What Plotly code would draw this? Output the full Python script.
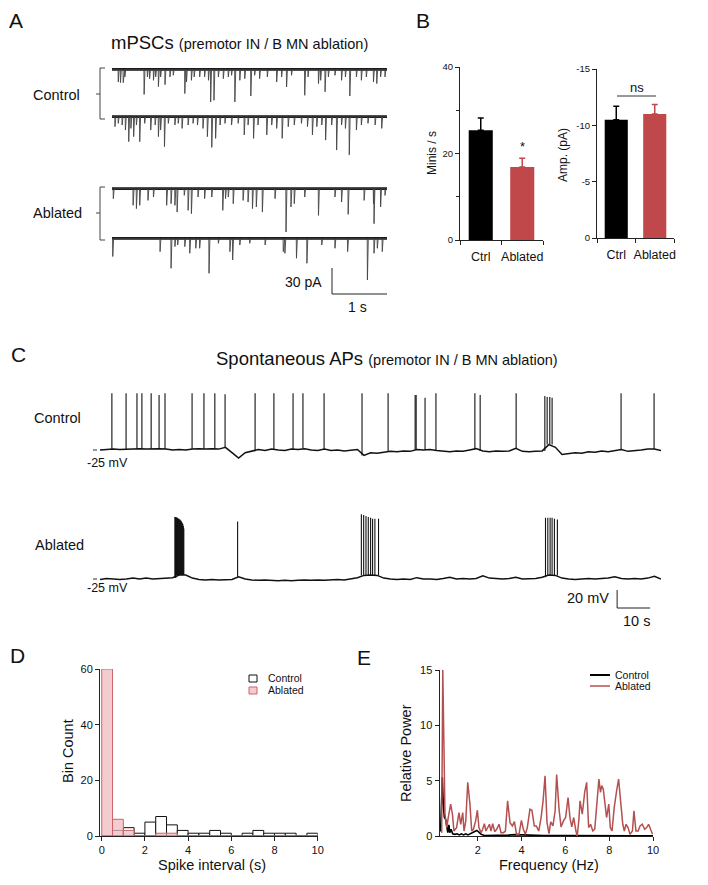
import plotly.graph_objects as go

W, H = 708, 885
FONT = "Liberation Sans, Arial, Helvetica, sans-serif"
INK = "#111111"
AX = "#222222"
RED = "#c0474a"
RED_LINE = "#b4504f"
PINK = "rgba(240,185,189,0.75)"
PINK_EDGE = "#c9666b"

# ---------------- Panel A: mPSC events (time in s, amplitude in pA) ----------------
ctrl1_t = [0.11, 0.15, 0.20, 0.23, 0.58, 0.64, 0.68, 0.75, 0.79, 0.84, 0.88, 0.96, 1.05, 1.11, 1.32,
           1.35, 1.44, 1.49, 1.59, 1.68, 1.75, 1.79, 1.85, 1.93, 2.02, 2.11, 2.17, 2.23, 2.32, 2.41,
           2.52, 2.59, 2.68, 2.82, 2.99, 3.08, 3.17, 3.26, 3.50, 3.56, 3.75, 3.79, 3.87, 3.93, 4.05,
           4.17, 4.24, 4.32, 4.44, 4.53, 4.62, 4.75, 4.81, 4.88, 4.96]
ctrl1_a = [14.6, 15.4, 15.4, 8.8, 29, 8.8, 10.8, 12.7, 8.8, 20, 8.8, 17.7, 8.8, 6.9, 28,
           14.6, 12.7, 8.8, 8.8, 8.8, 12.7, 37.7, 35.8, 8.8, 10.8, 8.8, 6.9, 37.7, 12.7, 10.8,
           30.8, 6.9, 10.8, 8.8, 14.6, 8.8, 20.4, 6.9, 30, 8.8, 16.5, 12.7, 26, 8.8, 6.9,
           12.7, 8.8, 30.8, 8.8, 12.7, 8.8, 14.6, 16.5, 8.8, 8.8]
ctrl2_t = [0.05, 0.11, 0.18, 0.24, 0.30, 0.34, 0.39, 0.44, 0.50, 0.59, 0.70, 0.78, 0.84, 0.88, 0.95,
           1.02, 1.14, 1.20, 1.27, 1.38, 1.47, 1.55, 1.65, 1.73, 1.81, 1.88, 1.96, 2.05, 2.17, 2.29,
           2.40, 2.47, 2.57, 2.65, 2.81, 2.90, 2.99, 3.09, 3.20, 3.31, 3.44, 3.55, 3.64, 3.72, 3.81,
           3.88, 3.99, 4.08, 4.17, 4.24, 4.31, 4.44, 4.53, 4.65, 4.78, 4.90]
ctrl2_a = [11.5, 7.7, 9.6, 15.4, 28.8, 13.5, 23, 9.6, 28.8, 7.7, 15.4, 9.6, 23, 15.4, 34.6,
           7.7, 9.6, 7.7, 13.5, 9.6, 7.7, 9.6, 13.5, 23, 35.4, 25, 9.6, 7.7, 9.6, 7.7,
           21, 9.6, 25, 9.6, 21, 9.6, 13.5, 25, 11.5, 9.6, 7.7, 11.5, 21, 11.5, 9.6,
           27, 9.6, 38.5, 9.6, 13.5, 44, 15.4, 9.6, 7.7, 9.6, 13.5]
abl1_t = [0.02, 0.38, 0.44, 0.50, 0.65, 0.75, 0.99, 1.07, 1.14, 1.18, 1.31, 1.38, 1.44, 1.56, 1.68,
          1.81, 2.01, 2.06, 2.11, 2.20, 2.38, 2.47, 2.55, 2.62, 2.73, 2.96, 3.16, 3.25, 3.31, 3.50,
          3.75, 4.05, 4.17, 4.29, 4.58, 4.75, 4.76, 4.88, 4.96]
abl1_a = [11.5, 19.2, 23, 19.2, 13.5, 9.6, 19.2, 17.3, 19.2, 27, 7.7, 25, 28.8, 9.6, 11.5,
          9.6, 25, 11.5, 9.6, 17.3, 13.5, 15.4, 23, 21, 27, 11.5, 50, 21, 17.3, 9.6,
          30.8, 9.6, 15.4, 29.6, 13.5, 17.3, 40.4, 21, 7.7]
abl2_t = [0.01, 0.87, 1.07, 1.14, 1.19, 1.32, 1.41, 1.52, 1.59, 1.76, 1.93, 2.14, 2.19, 2.32, 2.50,
          2.78, 3.11, 3.14, 3.35, 3.54, 3.81, 4.05, 4.28, 4.64, 4.76, 4.82, 4.91]
abl2_a = [21, 15.4, 34.6, 9.6, 7.7, 9.6, 17.3, 11.5, 11.5, 40.4, 5.8, 15.4, 25, 7.7, 5.8,
          7.7, 15.4, 17.3, 23, 28.8, 7.7, 11.5, 15.4, 48, 17.3, 11.5, 15.4]
sweep_duration = 5.0

# ---------------- Panel B: summary bars ----------------
b_cats = ["Ctrl", "Ablated"]
minis_mean = [25.4, 16.9]
minis_sem = [2.8, 2.0]
amp_mean = [-10.5, -11.0]
amp_sem = [1.2, 0.85]

# ---------------- Panel C: spontaneous APs (time s, mV) ----------------
c_base_t = [0, 2, 4, 6, 8, 10, 12, 14, 16, 18, 20, 22, 24, 26, 28, 30, 32, 34, 36, 38,
            40, 42, 44, 46, 48, 50, 52, 54, 56, 58, 60, 62, 64, 66, 68, 70, 72, 74, 76, 78,
            80, 82, 84, 86, 88, 90, 92, 94, 96, 98, 100, 102, 104, 106, 108, 110, 112, 114, 116, 118,
            120, 122, 124, 126, 128, 130, 132, 134, 136, 138, 140, 142, 144, 146, 148, 150, 152, 154, 156, 158,
            160, 162, 164, 166, 168, 170]
ctrl_base_dv = [0, 0.5, 1, 0.5, 1, 1, 1.5, 1, 1.5, 1.5,
                1, 0, 0.5, 0, 1, 1.5, 1, 1.5, 1, 3,
                -3, -9, -3, -1.5, 0.5, -0.5, 1, 0, -0.5, 1,
                0.5, 1.5, 0, -0.5, 1, -0.5, 0, -1, 0, 0.5,
                -6, -3, -3.5, -2.5, -1.5, -2, -1, -1.5, 0.5, 0,
                0.5, -0.5, -1.5, -2, -1, -1.5, 0, 1.5, -1, -2,
                -1, -1.5, -1, 2, -1.5, -2, -1.5, -1, 6, 3,
                -5, -4, -3, -3.5, -2, -2.5, -1, -2, -1, 0.5,
                -1.5, -1, 0, 1, 1, -0.5]
abl_base_dv = [-0.5, 0.5, 0, -0.5, 0, 1, 0, 1, 0, 0.5,
               0.5, 1.5, 4.5, 4.5, 1, -0.5, -1, -0.5, -1, -1,
               -0.5, 2.5, 0, -1, -1.5, -1, -1.5, -2, -1.5, -2,
               -1.5, -1, -1.5, -1, -1.5, -1, -0.5, -1, 0, 1.5,
               4, 4.5, 4, 1, 0, -0.5, 0, -0.5, 1.5, 0,
               0, -0.5, 0.5, 2, 0, 0.5, 0, 0.5, 3.5, 1,
               0.5, 0, 0.5, 2, 0, 0.5, 0.5, 2, 4.5, 4,
               1, 0, -0.5, 0, 0.5, 0, 0.5, 1, 2.5, 0.5,
               0, 0.5, 0, 1, 3, 0]
ctrl_spk_t = [3.6, 7.9, 11.2, 12.7, 15.5, 17.9, 19.7, 27.9, 31.5, 34.8, 37.9, 47.0, 52.7, 58.5, 61.5,
              67.9, 79.4, 87.3, 95.5, 95.8, 98.5, 101.8, 113.6, 115.2, 126.1, 134.8, 135.5, 136.3, 137.0,
              157.9, 167.9]
ctrl_spk_v = [38, 38, 38, 38, 38, 36, 38, 38, 38, 38, 37, 38, 38, 38, 38,
              38, 38, 38, 36, 36, 33, 38, 38, 36, 38, 35, 34, 34, 33,
              38, 38]
abl_spk_t = [22.7, 22.85, 23.0, 23.15, 23.3, 23.45, 23.6, 23.75, 23.9, 24.05, 24.2, 24.35, 24.5, 24.65,
             24.8, 24.95, 25.1, 25.25, 25.4,
             41.7,
             79.2, 79.9, 80.6, 81.3, 82.0, 82.6, 83.3, 84.4,
             135.0, 135.7, 136.4, 137.0, 137.7, 138.6]
abl_spk_v = [44, 44, 44, 43, 43, 43, 42, 42, 42, 41, 41, 40, 40, 39,
             38, 37, 36, 34, 31,
             39,
             47, 46, 45, 44, 43, 42, 42, 42,
             43, 43, 43, 43, 42, 41]
rest_mv = -25

# ---------------- Panel D: spike interval histogram ----------------
d_bin_center = [0.25, 0.75, 1.25, 1.75, 2.25, 2.75, 3.25, 3.75, 4.25, 4.75,
                5.25, 5.75, 6.25, 6.75, 7.25, 7.75, 8.25, 8.75, 9.25, 9.75]
d_ctrl = [0, 2, 3, 1, 5, 7, 4, 2, 1, 1, 2, 1, 0, 1, 2, 1, 1, 1, 0, 1]
d_abl = [60, 6, 2, 0, 0, 1, 1, 0, 0, 0, 0, 0, 0, 0, 0, 0, 0, 0, 0, 0]

# ---------------- Panel E: power spectra ----------------
e_ctrl_f = [0.30, 0.38, 0.42, 0.47, 0.53, 0.58, 0.63, 0.68, 0.72, 0.78, 0.85, 0.95, 1.05, 1.15, 1.25,
            1.35, 1.45, 1.55, 1.65, 1.75, 1.85, 1.95, 2.05, 2.15, 2.30, 2.60, 3.00, 3.40, 3.70, 4.00,
            4.50, 5.00, 6.00, 7.00, 8.00, 9.00, 10.00]
e_ctrl_p = [0.4, 5.3, 3.0, 1.7, 1.5, 0.8, 0.3, 1.0, 0.3, 0.6, 0.2, 0.15, 0.2, 0.1, 0.2,
            0.1, 0.2, 0.1, 0.2, 0.3, 0.45, 0.5, 0.35, 0.15, 0.05, 0.05, 0.02, 0.08, 0.12, 0.1,
            0.05, 0.03, 0.05, 0.02, 0.02, 0.01, 0.01]
e_abl_f = [0.35, 0.40, 0.50, 0.58, 0.65, 0.76, 0.84, 0.91, 1.03, 1.14, 1.22, 1.31, 1.37, 1.45, 1.54,
           1.64, 1.72, 1.80, 1.90, 1.98, 2.05, 2.15, 2.22, 2.30, 2.37, 2.45, 2.53, 2.60, 2.68, 2.77,
           2.86, 2.97, 3.06, 3.17, 3.26, 3.36, 3.47, 3.58, 3.67, 3.77, 3.88, 3.99, 4.08, 4.17, 4.26,
           4.38, 4.47, 4.58, 4.67, 4.78, 4.89, 4.98, 5.07, 5.16, 5.25, 5.33, 5.43, 5.53, 5.60, 5.71,
           5.80, 5.91, 6.01, 6.12, 6.21, 6.29, 6.38, 6.48, 6.54, 6.61, 6.67, 6.77, 6.88, 6.97, 7.06,
           7.15, 7.25, 7.34, 7.43, 7.53, 7.60, 7.66, 7.73, 7.81, 7.88, 7.98, 8.05, 8.13, 8.23, 8.34,
           8.43, 8.52, 8.62, 8.69, 8.77, 8.86, 8.95, 9.06, 9.13, 9.22, 9.32, 9.41, 9.51, 9.62, 9.71,
           9.80, 9.89, 9.98]
e_abl_p = [0.30, 15.0, 1.97, 0.76, 1.67, 2.88, 1.97, 0.45, 0.76, 2.12,
           1.06, 2.12, 0.45, 1.36, 4.85, 2.88, 0.45, 0.61, 1.36, 2.33,
           0.76, 0.30, 0.61, 1.12, 0.45, 0.76, 1.06, 0.45, 1.12, 0.39,
           0.61, 1.06, 0.30, 0.30, 0.45, 3.18, 1.21, 0.91, 1.30, 0.15,
           0.15, 1.42, 0.61, 0.15, 0.76, 2.42, 2.33, 0.91, 0.91, 0.45,
           1.67, 3.18, 5.45, 1.21, 0.21, 1.27, 0.91, 2.27, 5.55, 2.42,
           0.82, 1.36, 1.67, 3.48, 1.61, 0.82, 1.67, 0.45, 0.0, 1.36,
           3.18, 1.97, 3.94, 4.85, 0.76, 1.06, 0.45, 0.61, 3.18, 5.15,
           3.94, 4.55, 4.24, 2.73, 1.67, 2.88, 0.76, 0.45, 2.58, 4.09,
           5.15, 3.18, 1.06, 0.45, 1.06, 0.76, 0.15, 0.45, 2.27, 0.45,
           0.45, 0.91, 1.06, 0.61, 0.76, 1.06, 0.61, 0.15]


# ---------------- helpers ----------------
def xdom(a, b):
    return [a / W, b / W]


def ydom(top, bottom):
    return [1 - bottom / H, 1 - top / H]


def ann(text, x, y, size, xanchor="center", angle=0, color=INK):
    return dict(text=text, x=x / W, y=1 - y / H, xref="paper", yref="paper", showarrow=False,
                font=dict(size=size, family=FONT, color=color), xanchor=xanchor, yanchor="middle",
                textangle=angle)


def pline(x0, y0, x1, y1, color=AX, width=1):
    return dict(type="line", xref="paper", yref="paper", x0=x0 / W, y0=1 - y0 / H,
                x1=x1 / W, y1=1 - y1 / H, line=dict(color=color, width=width))


def mpsc_path(times, amps, offset, dur):
    ev = sorted(zip(times, amps))
    xs, ys = [0.0], [offset]
    for t, a in ev:
        xs += [t, t + 0.004, t + 0.02]
        ys += [offset, offset - a, offset]
    xs.append(dur)
    ys.append(offset)
    return xs, ys


def spike_segments(base_t, base_dv, spk_t, spk_v, offset):
    xs, ys = [], []
    for t, v in zip(spk_t, spk_v):
        i = min(range(len(base_t)), key=lambda k: abs(base_t[k] - t))
        xs += [t, t, None]
        ys += [rest_mv + base_dv[i] + offset, v + offset, None]
    return xs, ys


fig = go.Figure()

# ---------------- Panel A ----------------
A_K = 26 / 30.0                       # px per pA
A_BASE_PX = [69.3, 116.7, 188.7, 238.3]
A_TOP, A_BOT = 60, 300
a_off = [-(b - A_BASE_PX[0]) / A_K for b in A_BASE_PX]


def a_y(p):
    return -(p - A_BASE_PX[0]) / A_K


for (tt, aa), off in zip([(ctrl1_t, ctrl1_a), (ctrl2_t, ctrl2_a), (abl1_t, abl1_a), (abl2_t, abl2_a)], a_off):
    xs, ys = mpsc_path(tt, aa, off, sweep_duration)
    fig.add_trace(go.Scatter(x=[0, sweep_duration], y=[off, off], mode="lines",
                             line=dict(color="#151515", width=2.8), xaxis="x", yaxis="y",
                             hoverinfo="skip", showlegend=False))
    fig.add_trace(go.Scatter(x=xs, y=ys, mode="lines", line=dict(color="#444444", width=0.9),
                             xaxis="x", yaxis="y", hoverinfo="skip", showlegend=False))

# ---------------- Panel C ----------------
C_K = 0.9                              # px per mV
C_BASE_PX = [450, 579]
C_TOP, C_BOT = 380, 615
c_off = [-(b - C_BASE_PX[0]) / C_K for b in C_BASE_PX]


def c_y(p):
    return rest_mv - (p - C_BASE_PX[0]) / C_K


for dv, st, sv, off in [(ctrl_base_dv, ctrl_spk_t, ctrl_spk_v, c_off[0]),
                        (abl_base_dv, abl_spk_t, abl_spk_v, c_off[1])]:
    fig.add_trace(go.Scatter(x=c_base_t, y=[rest_mv + d + off for d in dv], mode="lines",
                             line=dict(color="#111", width=1.5), xaxis="x2", yaxis="y2",
                             hoverinfo="skip", showlegend=False))
    sx, sy = spike_segments(c_base_t, dv, st, sv, off)
    fig.add_trace(go.Scatter(x=sx, y=sy, mode="lines", line=dict(color="#111", width=1.1),
                             xaxis="x2", yaxis="y2", hoverinfo="skip", showlegend=False,
                             connectgaps=False))

# ---------------- Panel B ----------------
b_colors = ["#000000", RED]
b_x = [0.5, 1.5]
for i in range(2):
    fig.add_trace(go.Bar(x=[b_x[i]], y=[minis_mean[i]], width=0.58, marker=dict(color=b_colors[i], line_width=0),
                         error_y=dict(type="data", symmetric=False, array=[minis_sem[i]], arrayminus=[0],
                                      color=b_colors[i], thickness=1.5, width=3),
                         xaxis="x3", yaxis="y3", showlegend=False, hoverinfo="skip"))
    fig.add_trace(go.Bar(x=[b_x[i]], y=[amp_mean[i]], width=0.6, marker=dict(color=b_colors[i], line_width=0),
                         error_y=dict(type="data", symmetric=False, array=[0], arrayminus=[amp_sem[i]],
                                      color=b_colors[i], thickness=1.5, width=3),
                         xaxis="x4", yaxis="y4", showlegend=False, hoverinfo="skip"))

# ---------------- Panel D ----------------
fig.add_trace(go.Bar(x=d_bin_center, y=d_ctrl, width=0.5, name="Control",
                     marker=dict(color="white", line=dict(color="#111", width=1)),
                     xaxis="x5", yaxis="y5", showlegend=False, hoverinfo="skip"))
fig.add_trace(go.Bar(x=d_bin_center, y=d_abl, width=0.5, name="Ablated",
                     marker=dict(color=PINK, line=dict(color=PINK_EDGE, width=1)),
                     xaxis="x5", yaxis="y5", showlegend=False, hoverinfo="skip"))

# ---------------- Panel E ----------------
fig.add_trace(go.Scatter(x=e_ctrl_f, y=e_ctrl_p, mode="lines", line=dict(color="#000", width=1.6),
                         xaxis="x6", yaxis="y6", showlegend=False, hoverinfo="skip"))
fig.add_trace(go.Scatter(x=e_abl_f, y=e_abl_p, mode="lines", line=dict(color=RED_LINE, width=1.5),
                         xaxis="x6", yaxis="y6", showlegend=False, hoverinfo="skip"))

# ---------------- axes ----------------
def ax(**kw):
    base = dict(showline=True, linecolor=AX, linewidth=1, ticks="outside", tickcolor=AX, ticklen=4,
                tickwidth=1, tickfont=dict(size=11, color=INK, family=FONT), showgrid=False,
                zeroline=False, fixedrange=True)
    base.update(kw)
    return base


hidden = dict(visible=False, showgrid=False, zeroline=False, fixedrange=True)
B_TICK = dict(size=9.5, color=INK, family=FONT)
B_CAT = dict(size=12.5, color=INK, family=FONT)

layout = dict(
    width=W, height=H, margin=dict(l=0, r=0, t=0, b=0), template="none",
    paper_bgcolor="white", plot_bgcolor="rgba(0,0,0,0)", barmode="overlay",
    font=dict(family=FONT, color=INK), showlegend=False,
    xaxis=dict(hidden, domain=xdom(112, 387), range=[0, sweep_duration], anchor="y"),
    yaxis=dict(hidden, domain=ydom(A_TOP, A_BOT), range=[a_y(A_BOT), a_y(A_TOP)], anchor="x"),
    xaxis2=dict(hidden, domain=xdom(100, 661), range=[0, 170], anchor="y2"),
    yaxis2=dict(hidden, domain=ydom(C_TOP, C_BOT), range=[c_y(C_BOT), c_y(C_TOP)], anchor="x2"),
    xaxis3=ax(domain=xdom(460, 543), range=[0, 2], anchor="y3", tickvals=b_x, ticktext=b_cats,
              tickcolor="rgba(0,0,0,0)", ticklen=5, tickfont=B_CAT,
              minor=dict(tickvals=[0, 1, 2], ticks="outside", ticklen=4, tickcolor=AX)),
    yaxis3=ax(domain=ydom(67, 240), range=[0, 40], anchor="x3", tickvals=[0, 20, 40],
              tickfont=B_TICK, ticklen=4,
              minor=dict(tickvals=[10, 30], ticks="outside", ticklen=3, tickcolor=AX)),
    xaxis4=ax(domain=xdom(597, 674), range=[0, 2], anchor="y4", tickvals=b_x, ticktext=b_cats,
              tickcolor="rgba(0,0,0,0)", ticklen=5, tickfont=B_CAT,
              minor=dict(tickvals=[0, 1, 2], ticks="outside", ticklen=4, tickcolor=AX)),
    yaxis4=ax(domain=ydom(69, 238), range=[0, -15], anchor="x4", tickvals=[0, -5, -10, -15],
              ticktext=["0", "-5", "-10", "-15"], tickfont=B_TICK),
    xaxis5=ax(domain=xdom(100, 317.7), range=[-0.08, 10], anchor="y5", tickvals=[0, 2, 4, 6, 8, 10]),
    yaxis5=ax(domain=ydom(669, 836), range=[0, 60], anchor="x5", tickvals=[0, 20, 40, 60]),
    xaxis6=ax(domain=xdom(439.5, 653), range=[0.25, 10], anchor="y6", tickvals=[2, 4, 6, 8, 10]),
    yaxis6=ax(domain=ydom(670, 836), range=[0, 15], anchor="x6", tickvals=[0, 5, 10, 15]),
)

annotations = [
    ann("A", 16, 21, 21), ann("B", 423, 21, 21), ann("C", 18, 354, 21),
    ann("D", 17, 655, 21), ann("E", 364, 657, 21),
    ann("mPSCs <span style='font-size:14.5px'>(premotor IN / B MN ablation)</span>", 239, 42, 18.5),
    ann("Control", 57, 95, 14.5), ann("Ablated", 58, 213, 14.5),
    ann("30 pA", 324, 282, 14, xanchor="right"), ann("1 s", 357, 307, 14),
    ann("Minis / s", 432, 153, 12, angle=-90), ann("Amp. (pA)", 563, 155, 12, angle=-90),
    dict(text="*", x=1.5, y=21.6, xref="x3", yref="y3", showarrow=False,
         font=dict(size=13, family=FONT, color=INK)),
    ann("ns", 637, 87, 13),
    ann("Spontaneous APs <span style='font-size:14.5px'>(premotor IN / B MN ablation)</span>", 387, 358, 18.5),
    ann("Control", 58, 418, 14.5), ann("Ablated", 59, 545, 14.5),
    ann("-25 mV", 107, 463, 12.5), ann("-25 mV", 107, 588, 12.5),
    ann("20 mV", 611, 598, 14.5, xanchor="right"), ann("10 s", 636, 621, 14.5),
    ann("Bin Count", 68, 751, 14.5, angle=-90), ann("Spike interval (s)", 212, 865, 14.5),
    ann("Control", 266, 678, 10.5, xanchor="left"), ann("Ablated", 266, 690, 10.5, xanchor="left"),
    ann("Relative Power", 406, 753, 14.5, angle=-90), ann("Frequency (Hz)", 549, 865, 14.5),
    ann("Control", 613, 675, 10.5, xanchor="left"), ann("Ablated", 613, 686, 10.5, xanchor="left"),
]

shapes = [
    # panel A brackets
    dict(type="path", xref="paper", yref="paper",
         path=f"M {105/W},{1-68/H} L {100/W},{1-68/H} L {100/W},{1-119/H} L {105/W},{1-119/H}",
         line=dict(color="#444", width=1)),
    pline(96, 94, 100, 94, "#444"),
    dict(type="path", xref="paper", yref="paper",
         path=f"M {105/W},{1-187/H} L {100/W},{1-187/H} L {100/W},{1-240/H} L {105/W},{1-240/H}",
         line=dict(color="#444", width=1)),
    pline(96, 213, 100, 213, "#444"),
    # panel A scale bar
    dict(type="path", xref="x", yref="y",
         path=f"M 4.0,{a_y(268)} L 4.0,{a_y(294)} L 5.0,{a_y(294)}",
         line=dict(color="#222", width=1)),
    # panel B "ns" line
    pline(617, 96, 656, 96, "#333"),
    # panel C baseline ticks
    pline(93, 450, 97, 450, "#333"), pline(93, 579, 97, 579, "#333"),
    # panel C scale bar
    dict(type="path", xref="x2", yref="y2",
         path=f"M 156.7,{c_y(590)} L 156.7,{c_y(608)} L 166.7,{c_y(608)}",
         line=dict(color="#222", width=1)),
    # panel D legend glyphs
    dict(type="rect", xref="paper", yref="paper", x0=249 / W, x1=257 / W, y0=1 - 682 / H, y1=1 - 675 / H,
         line=dict(color="#111", width=1), fillcolor="white"),
    dict(type="rect", xref="paper", yref="paper", x0=249 / W, x1=257 / W, y0=1 - 694 / H, y1=1 - 687 / H,
         line=dict(color=PINK_EDGE, width=1), fillcolor=PINK),
    # panel E legend glyphs
    pline(590, 675, 610, 675, "#000", 2), pline(590, 686, 610, 686, RED_LINE, 1.5),
]

layout["annotations"] = annotations
layout["shapes"] = shapes
fig.update_layout(**layout)

fig.write_html("out.html", config={"displayModeBar": False, "staticPlot": True},
               post_script="document.body.style.margin='0';document.body.style.overflow='hidden';")
